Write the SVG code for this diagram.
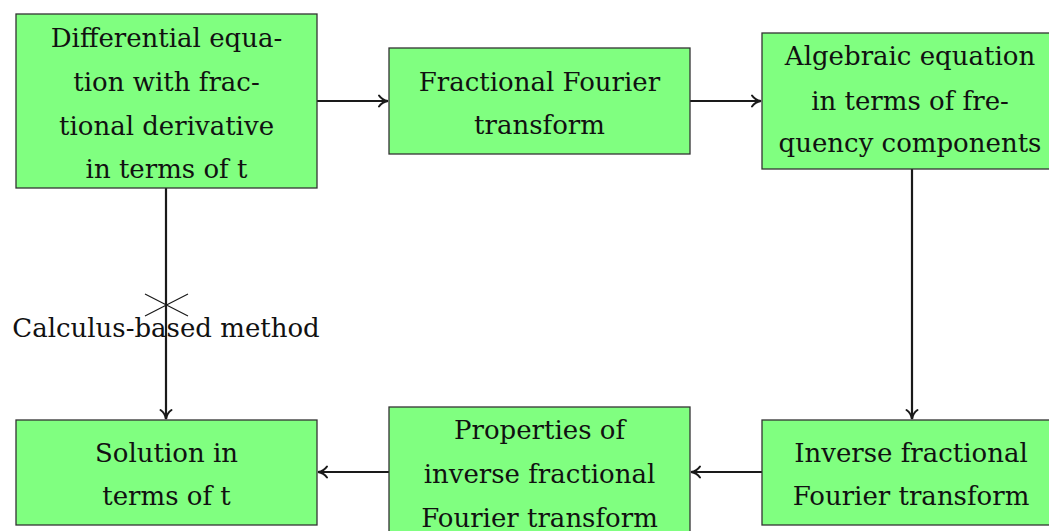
<svg xmlns="http://www.w3.org/2000/svg" width="1049" height="531" viewBox="0 0 1049 531">
  <style>
    .box { fill: #80ff80; stroke: #333; stroke-width: 1.3; }
    .lbl { font-family: "DejaVu Serif", "Liberation Serif", serif; font-size: 26px; fill: #111; text-anchor: middle; }
    .edge { fill: none; stroke: #1a1a1a; stroke-width: 2.2; }
    .cross { fill: none; stroke: #1a1a1a; stroke-width: 1.2; }
  </style>
  <defs>
    <marker id="arrow" viewBox="0 0 14 14" refX="12" refY="7" markerWidth="14" markerHeight="14" markerUnits="userSpaceOnUse" orient="auto">
      <path d="M3,1.5 Q6,6 12,7 Q6,8 3,12.5" fill="none" stroke="#1a1a1a" stroke-width="2" stroke-linecap="round"/>
    </marker>
  </defs>

  <g id="connectors">
    <line class="edge" x1="317" y1="101" x2="388" y2="101" marker-end="url(#arrow)"/>
    <line class="edge" x1="690" y1="101" x2="761" y2="101" marker-end="url(#arrow)"/>
    <line class="edge" x1="912" y1="169" x2="912" y2="419" marker-end="url(#arrow)"/>
    <line class="edge" x1="762" y1="472" x2="691" y2="472" marker-end="url(#arrow)"/>
    <line class="edge" x1="389" y1="472" x2="318" y2="472" marker-end="url(#arrow)"/>
    <line class="edge" x1="166" y1="188" x2="166" y2="419" marker-end="url(#arrow)"/>
    <path class="cross" d="M145,294 L188,316 M145,316 L188,294"/>
    <text class="lbl" x="166" y="337">Calculus-based method</text>
  </g>

  <g id="node-differential">
    <rect class="box" x="16" y="14" width="301" height="174"/>
    <text class="lbl" x="166.5" y="47">Differential equa-</text>
    <text class="lbl" x="166.5" y="91">tion with frac-</text>
    <text class="lbl" x="166.5" y="135">tional derivative</text>
    <text class="lbl" x="166.5" y="178">in terms of t</text>
  </g>

  <g id="node-fourier">
    <rect class="box" x="389" y="48" width="301" height="106"/>
    <text class="lbl" x="539.5" y="91">Fractional Fourier</text>
    <text class="lbl" x="539.5" y="134">transform</text>
  </g>

  <g id="node-algebraic">
    <rect class="box" x="762" y="33" width="301" height="136"/>
    <text class="lbl" x="910" y="65">Algebraic equation</text>
    <text class="lbl" x="910" y="110">in terms of fre-</text>
    <text class="lbl" x="910" y="152">quency components</text>
  </g>

  <g id="node-inverse">
    <rect class="box" x="762" y="420" width="301" height="105"/>
    <text class="lbl" x="911" y="462">Inverse fractional</text>
    <text class="lbl" x="911" y="505">Fourier transform</text>
  </g>

  <g id="node-properties">
    <rect class="box" x="389" y="407" width="301" height="140"/>
    <text class="lbl" x="539.5" y="439">Properties of</text>
    <text class="lbl" x="539.5" y="483">inverse fractional</text>
    <text class="lbl" x="539.5" y="527">Fourier transform</text>
  </g>

  <g id="node-solution">
    <rect class="box" x="16" y="420" width="301" height="105"/>
    <text class="lbl" x="166.5" y="462">Solution in</text>
    <text class="lbl" x="166.5" y="505">terms of t</text>
  </g>
</svg>
